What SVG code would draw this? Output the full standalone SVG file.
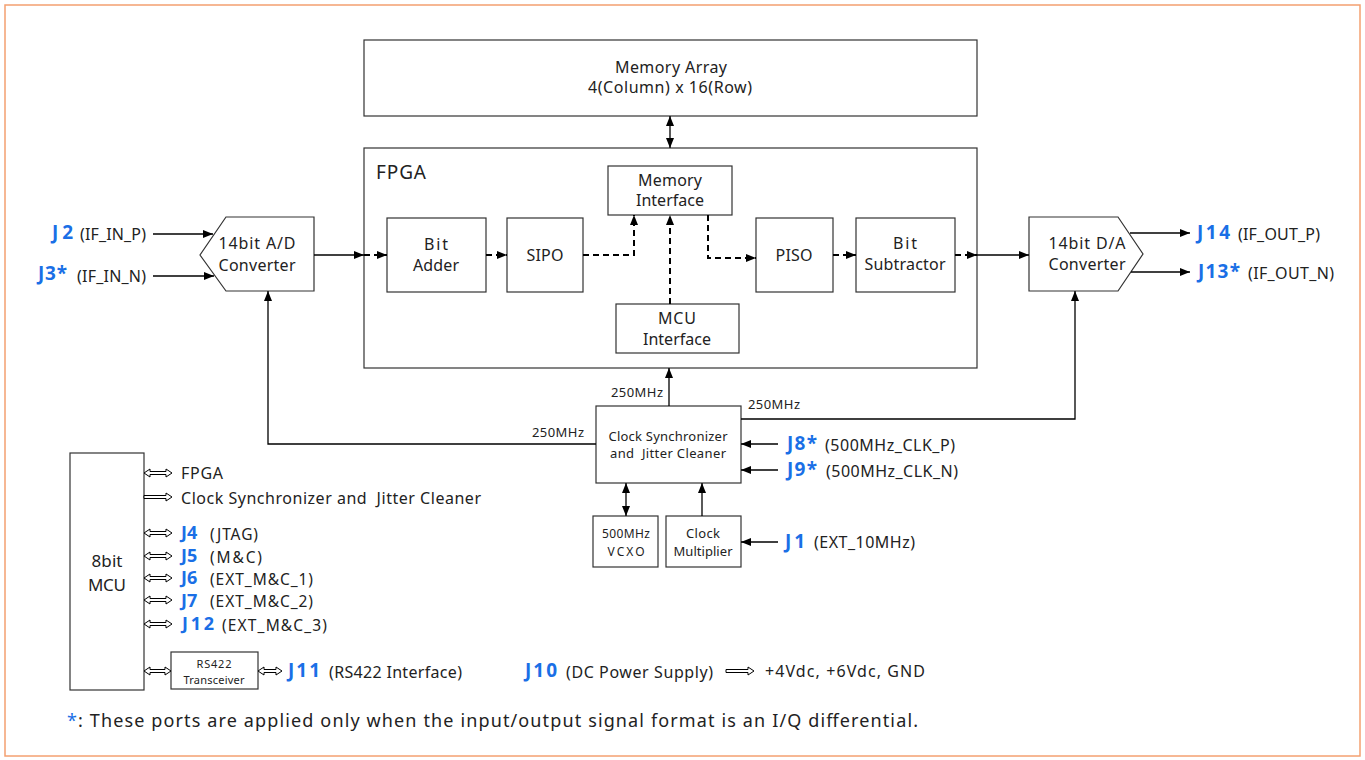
<svg xmlns="http://www.w3.org/2000/svg" width="1365" height="760" viewBox="0 0 1365 760">
<style>
.bx{fill:#fff;stroke:#333;stroke-width:1.2}
.t{font-family:"Noto Sans","Open Sans",sans-serif;font-size:16px;fill:#222;text-anchor:middle;dominant-baseline:central}
.l{font-family:"Noto Sans","Open Sans",sans-serif;font-size:16px;fill:#222;dominant-baseline:central}
.j{font-family:"Noto Sans","Open Sans",sans-serif;font-size:19px;font-weight:bold;fill:#1a6fe6;dominant-baseline:central}
.jm{font-size:18px}
.s{font-family:"Noto Sans","Open Sans",sans-serif;font-size:13px;fill:#222;dominant-baseline:central}
.c{fill:none;stroke:#000;stroke-width:1.3}
.d{fill:none;stroke:#000;stroke-width:2;stroke-dasharray:6,4}
.h{fill:#fff;stroke:#000;stroke-width:1}
</style>
<defs>
<marker id="ah" markerWidth="10" markerHeight="8" refX="10" refY="4" orient="auto-start-reverse" markerUnits="userSpaceOnUse"><path d="M0,0 L10,4 L0,8 z" fill="#000"/></marker>
</defs>
<rect x="5" y="5" width="1355" height="751" fill="#fff" stroke="#f4a070" stroke-width="1.5"/>

<g id="memory-array"><rect class="bx" x="364" y="40" width="613" height="76"/><text class="t" x="671" y="67" textLength="112">Memory Array</text><text class="t" x="670" y="87" textLength="164">4(Column) x 16(Row)</text></g>
<g id="fpga"><rect class="bx" x="364" y="148" width="613" height="220"/><text class="l" x="376" y="172" style="font-size:19px" textLength="50">FPGA</text></g>
<g id="bit-adder"><rect class="bx" x="387" y="218" width="99" height="74"/><text class="t" x="436" y="244" textLength="24">Bit</text><text class="t" x="436" y="265" textLength="46">Adder</text></g>
<g id="sipo"><rect class="bx" x="507" y="218" width="76" height="74"/><text class="t" x="545" y="255" textLength="37">SIPO</text></g>
<g id="memory-interface"><rect class="bx" x="608" y="166" width="124" height="49"/><text class="t" x="670" y="180" textLength="64">Memory</text><text class="t" x="670" y="200" textLength="68">Interface</text></g>
<g id="mcu-interface"><rect class="bx" x="616" y="304" width="123" height="49"/><text class="t" x="677" y="318" textLength="38">MCU</text><text class="t" x="677" y="339" textLength="68">Interface</text></g>
<g id="piso"><rect class="bx" x="756" y="218" width="77" height="74"/><text class="t" x="794" y="255" textLength="37">PISO</text></g>
<g id="bit-subtractor"><rect class="bx" x="856" y="218" width="99" height="74"/><text class="t" x="905" y="243" textLength="24">Bit</text><text class="t" x="905" y="264" textLength="81">Subtractor</text></g>
<g id="adc"><polygon class="bx" points="226,217 314,217 314,291 226,291 200,255"/><text class="t" x="257" y="243" textLength="77">14bit A/D</text><text class="t" x="257" y="265" textLength="77">Converter</text></g>
<g id="dac"><polygon class="bx" points="1029,217 1118,217 1143,254 1118,291 1029,291"/><text class="t" x="1087" y="243" textLength="77">14bit D/A</text><text class="t" x="1087" y="264" textLength="77">Converter</text></g>
<g id="clock-sync"><rect class="bx" x="596" y="406" width="145" height="77"/><text class="t" x="668" y="436" style="font-size:13px" textLength="119">Clock Synchronizer</text><text class="t" x="668" y="453" style="font-size:13px" textLength="116" xml:space="preserve">and  Jitter Cleaner</text></g>
<g id="vcxo"><rect class="bx" x="593" y="516" width="65" height="51"/><text class="t" x="626" y="533" style="font-size:12px" textLength="48">500MHz</text><text class="t" x="626" y="551" style="font-size:12px" textLength="37">VCXO</text></g>
<g id="clock-multiplier"><rect class="bx" x="666" y="516" width="75" height="51"/><text class="t" x="703" y="533" style="font-size:13px" textLength="34">Clock</text><text class="t" x="703" y="551" style="font-size:13px" textLength="59">Multiplier</text></g>
<g id="mcu"><rect class="bx" x="70" y="453" width="74" height="237"/><text class="t" x="107" y="560" style="font-size:17px" textLength="31">8bit</text><text class="t" x="107" y="584" style="font-size:17px" textLength="38">MCU</text></g>
<g id="rs422"><rect class="bx" x="171" y="652" width="87" height="37"/><text class="t" x="214" y="663" style="font-size:11px" textLength="35">RS422</text><text class="t" x="214" y="679" style="font-size:11px" textLength="61">Transceiver</text></g>

<g id="connectors">
<path class="c" d="M153,234 L213,234" marker-end="url(#ah)"/>
<path class="c" d="M153,276 L214,276" marker-end="url(#ah)"/>
<path class="c" d="M314,255 L364,255" marker-end="url(#ah)"/>
<path class="d" d="M364,255 L387,255" marker-end="url(#ah)"/>
<path class="d" d="M486,255 L507,255" marker-end="url(#ah)"/>
<path class="d" d="M583,255 L634,255 L634,215" marker-end="url(#ah)"/>
<path class="d" d="M670,304 L670,215" marker-end="url(#ah)"/>
<path class="d" d="M708,215 L708,258 L756,258" marker-end="url(#ah)"/>
<path class="d" d="M833,255 L856,255" marker-end="url(#ah)"/>
<path class="d" d="M955,255 L977,255" marker-end="url(#ah)"/>
<path class="c" d="M977,255 L1029,255" marker-end="url(#ah)"/>
<path class="c" d="M1130,233 L1190,233" marker-end="url(#ah)"/>
<path class="c" d="M1131,272 L1190,272" marker-end="url(#ah)"/>
<path class="c" d="M670,116 L670,148" marker-start="url(#ah)" marker-end="url(#ah)"/>
<path class="c" d="M669,406 L669,368" marker-end="url(#ah)"/>
<path class="c" d="M741,419 L1075,419 L1075,291" marker-end="url(#ah)"/>
<path class="c" d="M596,444 L268,444 L268,291" marker-end="url(#ah)"/>
<path class="c" d="M778,444 L741,444" marker-end="url(#ah)"/>
<path class="c" d="M778,470 L741,470" marker-end="url(#ah)"/>
<path class="c" d="M626,483 L626,516" marker-start="url(#ah)" marker-end="url(#ah)"/>
<path class="c" d="M702,516 L702,483" marker-end="url(#ah)"/>
<path class="c" d="M778,542 L741,542" marker-end="url(#ah)"/>
<path class="h" d="M144,473 l6,-4 v2.5 h16 v-2.5 l6,4 l-6,4 v-2.5 h-16 v2.5 z"/>
<path class="h" d="M144,495.5 h22 v-2.5 l6,4 l-6,4 v-2.5 h-22 z"/>
<path class="h" d="M144,533 l6,-4 v2.5 h16 v-2.5 l6,4 l-6,4 v-2.5 h-16 v2.5 z"/>
<path class="h" d="M144,556 l6,-4 v2.5 h16 v-2.5 l6,4 l-6,4 v-2.5 h-16 v2.5 z"/>
<path class="h" d="M144,578 l6,-4 v2.5 h16 v-2.5 l6,4 l-6,4 v-2.5 h-16 v2.5 z"/>
<path class="h" d="M144,600 l6,-4 v2.5 h16 v-2.5 l6,4 l-6,4 v-2.5 h-16 v2.5 z"/>
<path class="h" d="M144,624 l6,-4 v2.5 h16 v-2.5 l6,4 l-6,4 v-2.5 h-16 v2.5 z"/>
<path class="h" d="M144,671 l6,-4 v2.5 h15 v-2.5 l6,4 l-6,4 v-2.5 h-15 v2.5 z"/>
<path class="h" d="M258,671 l6,-4 v2.5 h12 v-2.5 l6,4 l-6,4 v-2.5 h-12 v2.5 z"/>
<path class="h" d="M726,669.5 h22 v-2.5 l6,4 l-6,4 v-2.5 h-22 z"/>
</g>

<g id="labels">
<text class="j" x="52" y="232" textLength="21">J2</text><text class="l" x="80" y="234" textLength="66">(IF_IN_P)</text>
<text class="j" x="38" y="273" textLength="29">J3*</text><text class="l" x="77" y="276" textLength="69">(IF_IN_N)</text>
<text class="j" x="1197" y="232" textLength="33">J14</text><text class="l" x="1238" y="234" textLength="82">(IF_OUT_P)</text>
<text class="j" x="1198" y="271" textLength="42">J13*</text><text class="l" x="1248" y="273" textLength="86">(IF_OUT_N)</text>
<text class="s" x="611" y="392" textLength="52">250MHz</text>
<text class="s" x="748" y="404" textLength="52">250MHz</text>
<text class="s" x="532" y="432" textLength="52">250MHz</text>
<text class="j" x="787" y="443" textLength="30">J8*</text><text class="l" x="825" y="445" textLength="130">(500MHz_CLK_P)</text>
<text class="j" x="787" y="469" textLength="30">J9*</text><text class="l" x="826" y="471" textLength="132">(500MHz_CLK_N)</text>
<text class="j" x="785" y="541" textLength="20">J1</text><text class="l" x="814" y="542" textLength="101">(EXT_10MHz)</text>
<text class="l" x="181" y="473" textLength="42">FPGA</text>
<text class="l" x="181" y="498" textLength="300" xml:space="preserve">Clock Synchronizer and  Jitter Cleaner</text>
<text class="j jm" x="181" y="532">J4</text><text class="l" x="210" y="534" style="font-size:15.5px" textLength="48">(JTAG)</text>
<text class="j jm" x="181" y="555">J5</text><text class="l" x="210" y="557" style="font-size:15.5px" textLength="52">(M&amp;C)</text>
<text class="j jm" x="181" y="577">J6</text><text class="l" x="210" y="579" style="font-size:15.5px" textLength="103">(EXT_M&amp;C_1)</text>
<text class="j jm" x="181" y="600">J7</text><text class="l" x="210" y="601" style="font-size:15.5px" textLength="103">(EXT_M&amp;C_2)</text>
<text class="j jm" x="182" y="623" textLength="32">J12</text><text class="l" x="222" y="625" style="font-size:15.5px" textLength="105">(EXT_M&amp;C_3)</text>
<text class="j" x="288" y="670" textLength="32">J11</text><text class="l" x="329" y="672" textLength="133">(RS422 Interface)</text>
<text class="j" x="525" y="670" textLength="32">J10</text><text class="l" x="566" y="672" textLength="147">(DC Power Supply)</text>
<text class="l" x="765" y="671" textLength="160">+4Vdc, +6Vdc, GND</text>
<text class="l" x="67" y="720" style="font-size:18px" textLength="851"><tspan fill="#1a6fe6">*</tspan>: These ports are applied only when the input/output signal format is an I/Q differential.</text>
</g>
</svg>
